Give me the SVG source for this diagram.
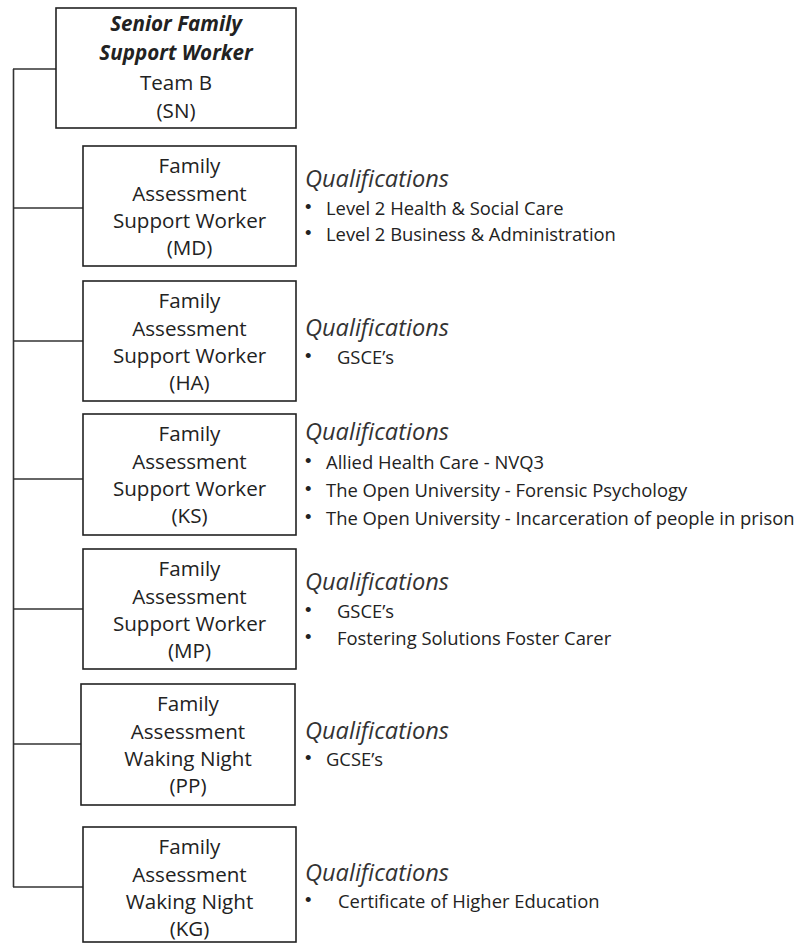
<svg xmlns="http://www.w3.org/2000/svg" width="798" height="944" viewBox="0 0 798 944">
<style>
.box{fill:#fff;stroke:#222;stroke-width:1.6}
.conn{fill:none;stroke:#333;stroke-width:1.6}
.bt{font-family:"Open Sans","Noto Sans",sans-serif;font-size:20.6px;fill:#222;text-anchor:middle}
.bi{font-weight:bold;font-style:italic}
.q{font-family:"Open Sans","Noto Sans",sans-serif;font-size:23.6px;font-style:italic;fill:#333}
.it{font-family:"Open Sans","Noto Sans",sans-serif;font-size:18.4px;fill:#222}
.bu{font-family:"Liberation Sans",Arial,sans-serif;font-size:18.4px}
</style>
<rect width="798" height="944" fill="#fff"/>
<g id="connectors">
<path class="conn" d="M13.5 69 V887"/>
<path class="conn" d="M13 69 H56"/>
<path class="conn" d="M13 208 H83"/>
<path class="conn" d="M13 341 H83"/>
<path class="conn" d="M13 479 H83"/>
<path class="conn" d="M13 609 H83"/>
<path class="conn" d="M13 744 H81"/>
<path class="conn" d="M13 887 H83"/>
</g>
<g id="senior">
<rect class="box" x="56" y="8" width="240" height="120"/>
<text class="bt bi" x="176" y="31">Senior Family</text>
<text class="bt bi" x="176" y="60">Support Worker</text>
<text class="bt" x="176" y="90">Team B</text>
<text class="bt" x="176" y="118">(SN)</text>
</g>
<g id="md">
<rect class="box" x="83" y="146" width="213" height="120"/>
<text class="bt" x="189.5" y="173">Family</text>
<text class="bt" x="189.5" y="201">Assessment</text>
<text class="bt" x="189.5" y="228">Support Worker</text>
<text class="bt" x="189.5" y="255">(MD)</text>
<text class="q" x="305" y="187">Qualifications</text>
<text class="it" y="215"><tspan class="bu" x="305" dy="-2.5">•</tspan><tspan x="326" y="215">Level 2 Health &amp; Social Care</tspan></text>
<text class="it" y="241"><tspan class="bu" x="305" dy="-2.5">•</tspan><tspan x="326" y="241">Level 2 Business &amp; Administration</tspan></text>
</g>
<g id="ha">
<rect class="box" x="83" y="281" width="213" height="120"/>
<text class="bt" x="189.5" y="308">Family</text>
<text class="bt" x="189.5" y="336">Assessment</text>
<text class="bt" x="189.5" y="363">Support Worker</text>
<text class="bt" x="189.5" y="390">(HA)</text>
<text class="q" x="305" y="336">Qualifications</text>
<text class="it" y="364"><tspan class="bu" x="305" dy="-2.5">•</tspan><tspan x="337" y="364">GSCE’s</tspan></text>
</g>
<g id="ks">
<rect class="box" x="83" y="414" width="213" height="121"/>
<text class="bt" x="189.5" y="441">Family</text>
<text class="bt" x="189.5" y="469">Assessment</text>
<text class="bt" x="189.5" y="496">Support Worker</text>
<text class="bt" x="189.5" y="523">(KS)</text>
<text class="q" x="305" y="440">Qualifications</text>
<text class="it" y="469"><tspan class="bu" x="305" dy="-2.5">•</tspan><tspan x="326" y="469">Allied Health Care - NVQ3</tspan></text>
<text class="it" y="497"><tspan class="bu" x="305" dy="-2.5">•</tspan><tspan x="326" y="497">The Open University - Forensic Psychology</tspan></text>
<text class="it" y="525"><tspan class="bu" x="305" dy="-2.5">•</tspan><tspan x="326" y="525">The Open University - Incarceration of people in prison</tspan></text>
</g>
<g id="mp">
<rect class="box" x="83" y="549" width="213" height="120"/>
<text class="bt" x="189.5" y="576">Family</text>
<text class="bt" x="189.5" y="604">Assessment</text>
<text class="bt" x="189.5" y="631">Support Worker</text>
<text class="bt" x="189.5" y="658">(MP)</text>
<text class="q" x="305" y="590">Qualifications</text>
<text class="it" y="618"><tspan class="bu" x="305" dy="-2.5">•</tspan><tspan x="337" y="618">GSCE’s</tspan></text>
<text class="it" y="645"><tspan class="bu" x="305" dy="-2.5">•</tspan><tspan x="337" y="645">Fostering Solutions Foster Carer</tspan></text>
</g>
<g id="pp">
<rect class="box" x="81" y="684" width="214" height="121"/>
<text class="bt" x="188" y="711">Family</text>
<text class="bt" x="188" y="739">Assessment</text>
<text class="bt" x="188" y="766">Waking Night</text>
<text class="bt" x="188" y="793">(PP)</text>
<text class="q" x="305" y="739">Qualifications</text>
<text class="it" y="766"><tspan class="bu" x="305" dy="-2.5">•</tspan><tspan x="326" y="766">GCSE’s</tspan></text>
</g>
<g id="kg">
<rect class="box" x="83" y="827" width="213" height="115"/>
<text class="bt" x="189.5" y="854">Family</text>
<text class="bt" x="189.5" y="882">Assessment</text>
<text class="bt" x="189.5" y="909">Waking Night</text>
<text class="bt" x="189.5" y="936">(KG)</text>
<text class="q" x="305" y="881">Qualifications</text>
<text class="it" y="908"><tspan class="bu" x="305" dy="-2.5">•</tspan><tspan x="338" y="908">Certificate of Higher Education</tspan></text>
</g>
</svg>
